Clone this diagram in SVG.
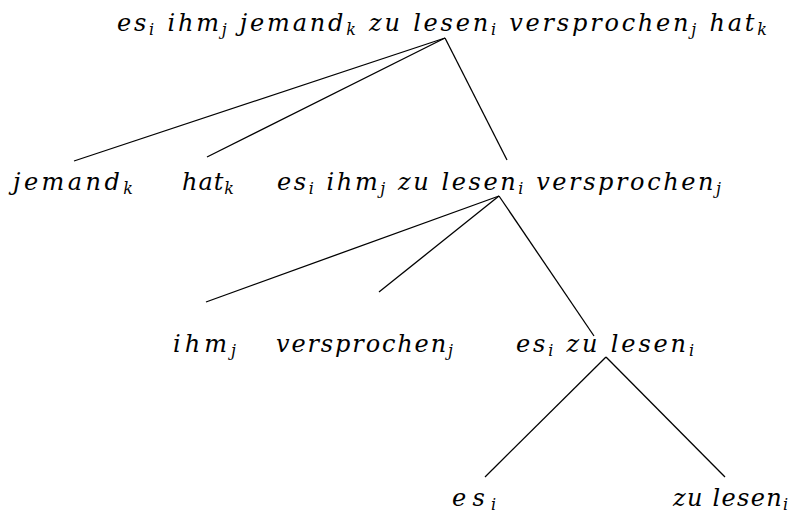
<svg xmlns="http://www.w3.org/2000/svg" width="801" height="521" viewBox="0 0 801 521">
<style>
.t{font-family:'DejaVu Serif','Liberation Serif',serif;font-style:italic;font-size:24px;fill:#000}
.s{font-size:16px}
.c line{stroke:#000;stroke-width:1.3}
</style>
<rect width="801" height="521" fill="#fff"/>
<g id="connectors" class="c">
<line x1="445" y1="38" x2="74" y2="161"/>
<line x1="445" y1="38" x2="207" y2="157"/>
<line x1="445" y1="38" x2="507" y2="160"/>
<line x1="499" y1="196" x2="206" y2="302"/>
<line x1="499" y1="196" x2="379" y2="292"/>
<line x1="499" y1="196" x2="594" y2="336"/>
<line x1="606" y1="357" x2="485" y2="477"/>
<line x1="606" y1="357" x2="725" y2="477"/>
</g>
<g id="root"><text class="t" x="117" y="31" textLength="650" lengthAdjust="spacing">es<tspan class="s" dy="4">i</tspan><tspan dy="-4"> ihm</tspan><tspan class="s" dy="4">j</tspan><tspan dy="-4"> jemand</tspan><tspan class="s" dy="4">k</tspan><tspan dy="-4"> zu lesen</tspan><tspan class="s" dy="4">i</tspan><tspan dy="-4"> versprochen</tspan><tspan class="s" dy="4">j</tspan><tspan dy="-4"> hat</tspan><tspan class="s" dy="4">k</tspan></text></g>
<g id="jemand"><text class="t" x="13" y="190" textLength="120" lengthAdjust="spacing">jemand<tspan class="s" dy="4">k</tspan></text></g>
<g id="hat"><text class="t" x="182" y="190" textLength="52" lengthAdjust="spacing">hat<tspan class="s" dy="4">k</tspan></text></g>
<g id="vp1"><text class="t" x="277" y="190" textLength="444" lengthAdjust="spacing">es<tspan class="s" dy="4">i</tspan><tspan dy="-4"> ihm</tspan><tspan class="s" dy="4">j</tspan><tspan dy="-4"> zu lesen</tspan><tspan class="s" dy="4">i</tspan><tspan dy="-4"> versprochen</tspan><tspan class="s" dy="4">j</tspan></text></g>
<g id="ihm"><text class="t" x="173" y="352" textLength="63" lengthAdjust="spacing">ihm<tspan class="s" dy="4">j</tspan></text></g>
<g id="versprochen"><text class="t" x="276" y="352" textLength="177" lengthAdjust="spacing">versprochen<tspan class="s" dy="4">j</tspan></text></g>
<g id="vp2"><text class="t" x="516" y="352" textLength="178" lengthAdjust="spacing">es<tspan class="s" dy="4">i</tspan><tspan dy="-4"> zu lesen</tspan><tspan class="s" dy="4">i</tspan></text></g>
<g id="es"><text class="t" x="452" y="506" textLength="44" lengthAdjust="spacing">es<tspan class="s" dy="4">i</tspan></text></g>
<g id="zulesen"><text class="t" x="673" y="506" textLength="115" lengthAdjust="spacing">zu lesen<tspan class="s" dy="4">i</tspan></text></g>
</svg>
